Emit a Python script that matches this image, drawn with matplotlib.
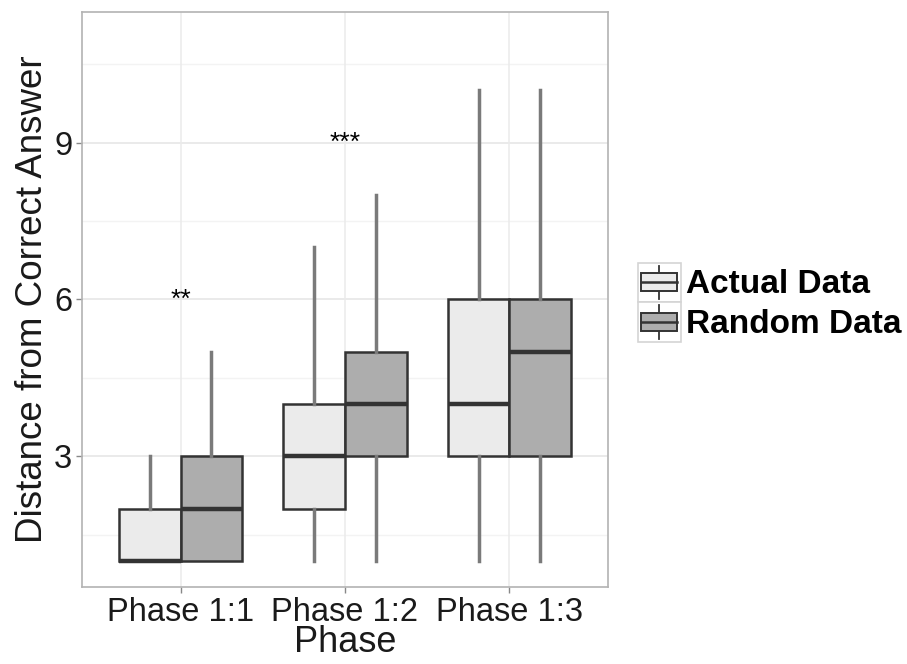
import matplotlib
matplotlib.use("Agg")
import matplotlib.pyplot as plt
from matplotlib.patches import Rectangle
from matplotlib.lines import Line2D
from matplotlib.legend_handler import HandlerBase

plt.rcParams['font.family'] = ['Liberation Sans', 'DejaVu Sans']

phases = ['Phase 1:1', 'Phase 1:2', 'Phase 1:3']
groups = ['Actual Data', 'Random Data']

# five-number summaries
actual_lo = [1, 1, 1]
actual_q1 = [1, 2, 3]
actual_med = [1, 3, 4]
actual_q3 = [2, 4, 6]
actual_hi = [3, 7, 10]

random_lo = [1, 1, 1]
random_q1 = [1, 3, 3]
random_med = [2, 4, 5]
random_q3 = [3, 5, 6]
random_hi = [5, 8, 10]

sig_labels = ['**', '***']
sig_y = [6, 9]

fills = ['#ebebeb', '#adadad']
edge = '#333333'
whisk = '#7a7a7a'


def make_stats(lo, q1, med, q3, hi):
    return [dict(whislo=a, q1=b, med=c, q3=d, whishi=e, fliers=[])
            for a, b, c, d, e in zip(lo, q1, med, q3, hi)]


class BoxKey(HandlerBase):
    def create_artists(self, legend, orig, xd, yd, w, h, fontsize, trans):
        fc = orig.get_facecolor()
        bx, by = -xd, -yd
        cx = bx + w / 2
        x0, x1 = bx + w * 0.08, bx + w * 0.92
        y0, y1 = by + h * 0.27, by + h * 0.73
        arts = [Rectangle((bx, by), w, h, facecolor='white', edgecolor='#d4d4d4', lw=1.2, transform=trans),
                Line2D([cx, cx], [by + h * 0.08, by + h * 0.92], color=edge, lw=1.3, transform=trans),
                Rectangle((x0, y0), x1 - x0, y1 - y0, facecolor=fc,
                          edgecolor=edge, lw=1.4, transform=trans),
                Line2D([x0, x1], [by + h / 2, by + h / 2], color=edge, lw=1.8, transform=trans)]
        return arts


fig = plt.figure(figsize=(9.07, 6.64), dpi=100)
ax = fig.add_axes([0.0904, 0.116, 0.5799, 0.866])

# grid
for y in [1.5, 4.5, 7.5, 10.5]:
    ax.axhline(y, color='#f3f3f3', lw=1, zorder=0)
for y in [3, 6, 9]:
    ax.axhline(y, color='#e6e6e6', lw=1.2, zorder=0)
for x in range(1, len(phases) + 1):
    ax.axvline(x, color='#ebebeb', lw=1.1, zorder=0)

bw = 0.375
pos = list(range(1, len(phases) + 1))
all_stats = [make_stats(actual_lo, actual_q1, actual_med, actual_q3, actual_hi),
             make_stats(random_lo, random_q1, random_med, random_q3, random_hi)]
offsets = [-bw / 2, bw / 2]
for stats, off, fc in zip(all_stats, offsets, fills):
    ax.bxp(stats, positions=[p + off for p in pos], widths=bw, patch_artist=True,
           showcaps=False, showfliers=False, manage_ticks=False,
           boxprops=dict(facecolor=fc, edgecolor=edge, lw=1.8),
           whiskerprops=dict(color=whisk, lw=2.5),
           medianprops=dict(color=edge, lw=3.2, solid_capstyle='butt'),
           zorder=2)

for i, (lab, y) in enumerate(zip(sig_labels, sig_y)):
    ax.text(pos[i], y, lab, ha='center', va='center', fontsize=19, color='#000000')

ax.set_xlim(0.4, 3.6)
ax.set_ylim(0.5, 11.5)
ax.set_xticks(pos)
ax.set_xticklabels(phases)
ax.set_yticks([3, 6, 9])
ax.tick_params(axis='both', labelsize=23.5, color='#888888', length=4, width=1, pad=3,
               labelcolor='#1a1a1a')
for s in ax.spines.values():
    s.set_color('#b3b3b3')
    s.set_linewidth(1.2)

ax.set_xlabel('Phase', fontsize=26, labelpad=-2, color='#1a1a1a')
ax.set_ylabel('Distance from Correct Answer', fontsize=26.5, labelpad=3, color='#1a1a1a')

handles = [Rectangle((0, 0), 1, 1, facecolor=c) for c in fills]
leg = fig.legend(handles, groups, loc='center left', bbox_to_anchor=(0.703, 0.545),
                 frameon=False, handler_map={Rectangle: BoxKey()},
                 prop=dict(size=24, weight='bold'), handlelength=1.3, handleheight=1.45,
                 handletextpad=0.15, labelspacing=0.0, borderpad=0, borderaxespad=0)

fig.savefig('out.png', dpi=100)
